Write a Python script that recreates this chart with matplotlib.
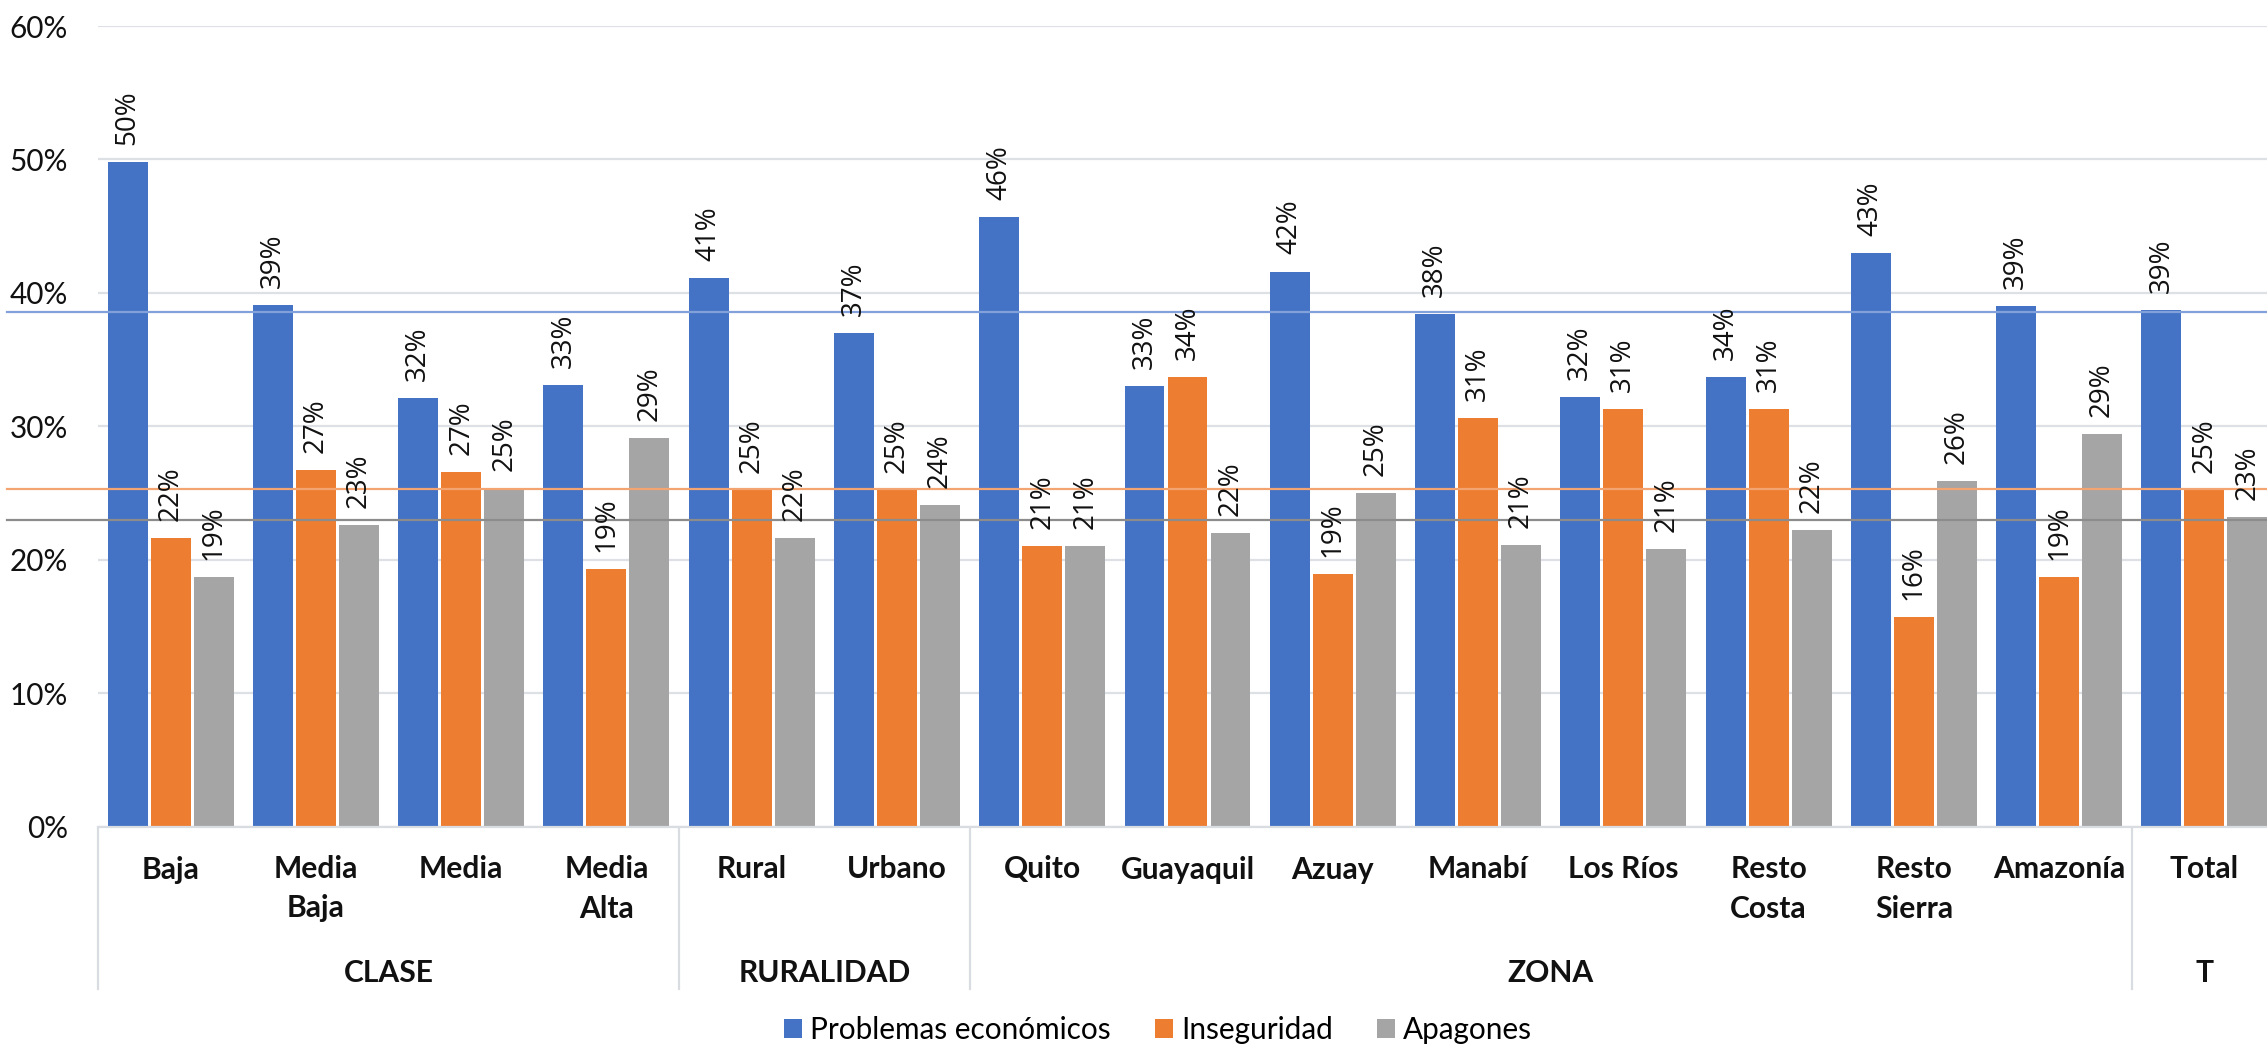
import matplotlib
matplotlib.use("Agg")
import matplotlib.pyplot as plt
import matplotlib.transforms as mtransforms
from matplotlib.patches import Patch
from matplotlib.ticker import PercentFormatter
import numpy as np

categories = ["Baja", "Media\nBaja", "Media", "Media\nAlta", "Rural", "Urbano",
              "Quito", "Guayaquil", "Azuay", "Manabí", "Los Ríos", "Resto\nCosta",
              "Resto\nSierra", "Amazonía", "Total"]
groups = ["CLASE", "RURALIDAD", "ZONA", "T"]
group_sizes = [4, 2, 8, 1]

series_names = ["Problemas económicos", "Inseguridad", "Apagones"]
economicos = [49.8, 39.1, 32.1, 33.1, 41.1, 37.0, 45.7, 33.0, 41.6, 38.4, 32.2, 33.7, 43.0, 39.0, 38.7]
inseguridad = [21.6, 26.7, 26.6, 19.3, 25.2, 25.2, 21.0, 33.7, 18.9, 30.6, 31.3, 31.3, 15.7, 18.7, 25.2]
apagones = [18.7, 22.6, 25.4, 29.1, 21.6, 24.1, 21.0, 22.0, 25.0, 21.1, 20.8, 22.2, 25.9, 29.4, 23.2]
reference_lines = [38.6, 25.3, 23.0]

colors = ["#4472C4", "#ED7D31", "#A5A5A5"]
line_colors = ["#82A0DA", "#F4A470", "#8C8C8C"]

W, H = 2267, 1047
DPI = 100
fig = plt.figure(figsize=(W / DPI, H / DPI), dpi=DPI)
renderer = fig.canvas.get_renderer()


def fit_size(text, family, weight, target_px, base=20.0):
    t = fig.text(0, 0, text, fontsize=base, family=family, fontweight=weight)
    w = t.get_window_extent(renderer=renderer).width
    t.remove()
    return base * target_px / w


tick_size = fit_size("30%", "Lato", "normal", 53) * 1.1
label_size = fit_size("43%", "Open Sans", "normal", 50) * 1.09
cat_size = fit_size("Guayaquil", "Lato", "bold", 134)
legend_size = fit_size("Inseguridad", "Lato", "normal", 152)

ax = fig.add_axes([98 / W, 220.3 / H, 2179 / W, (1021 - 220.3) / H])

x = np.arange(len(categories))
bw = 0.275
off = 0.296
for i, (vals, c) in enumerate(zip([economicos, inseguridad, apagones], colors)):
    bars = ax.bar(x + (i - 1) * off, vals, width=bw, color=c, zorder=2, label=series_names[i])
    for b, v in zip(bars, vals):
        ax.annotate(f"{v:.0f}%", (b.get_x() + b.get_width() / 2, v),
                    xytext=(0, 12.3), textcoords="offset points",
                    rotation=90, ha="center", va="bottom",
                    fontsize=label_size, family="Open Sans", color="#111111", zorder=5)

trans = mtransforms.blended_transform_factory(ax.transAxes, ax.transData)
for v, c in zip(reference_lines, line_colors):
    ax.plot([(7 - 98) / 2179, 1.0], [v, v], transform=trans, color=c,
            lw=1.6, zorder=4, clip_on=False)

ax.set_xlim(-0.5, len(categories) - 0.5)
ax.set_ylim(0, 60)
ax.set_yticks(np.arange(0, 61, 10))
ax.yaxis.set_major_formatter(PercentFormatter(100, decimals=0))
ax.grid(axis="y", color="#DDE1E6", lw=1.6, zorder=0)
ax.set_axisbelow(True)
for s in ["left", "right", "top"]:
    ax.spines[s].set_visible(False)
ax.spines["bottom"].set_color("#D9DDE2")
ax.spines["bottom"].set_linewidth(1.6)
ax.tick_params(axis="y", length=0, pad=30 * 72 / DPI, labelsize=tick_size)
for t in ax.get_yticklabels():
    t.set_family("Lato")
    t.set_color("#111111")
ax.set_xticks(x)
ax.set_xticklabels([])
ax.tick_params(axis="x", length=0)

xtrans = mtransforms.blended_transform_factory(ax.transData, fig.transFigure)
line_y = [867, 906]
for xi, lab in zip(x, categories):
    for k, part in enumerate(lab.split("\n")):
        ax.text(xi, 1 - line_y[k] / H, part, transform=xtrans, ha="center", va="center_baseline",
                fontsize=cat_size, family="Lato", fontweight="bold", color="#111111")

start = 0
bounds = [0]
for g, n in zip(groups, group_sizes):
    center = start + n / 2 - 0.5
    ax.text(center, 1 - 970 / H, g, transform=xtrans, ha="center", va="center_baseline",
            fontsize=cat_size, family="Lato", fontweight="bold", color="#111111")
    start += n
    bounds.append(start)
for b in bounds:
    ax.plot([b - 0.5, b - 0.5], [1 - 828 / H, 1 - 989 / H], transform=xtrans,
            color="#D9DDE2", lw=1.6, clip_on=False)

em = legend_size * DPI / 72
handles = [Patch(facecolor=c, edgecolor="none") for c in colors]
fig.legend(handles, series_names, loc="center", bbox_to_anchor=(1158 / W, 1 - 1030 / H),
           ncol=3, frameon=False, prop={"family": "Lato", "size": legend_size},
           handlelength=18 / em, handleheight=17 / em, handletextpad=8 / em,
           columnspacing=44 / em, borderpad=0, borderaxespad=0)

fig.savefig("out.png", dpi=DPI, facecolor="white")
